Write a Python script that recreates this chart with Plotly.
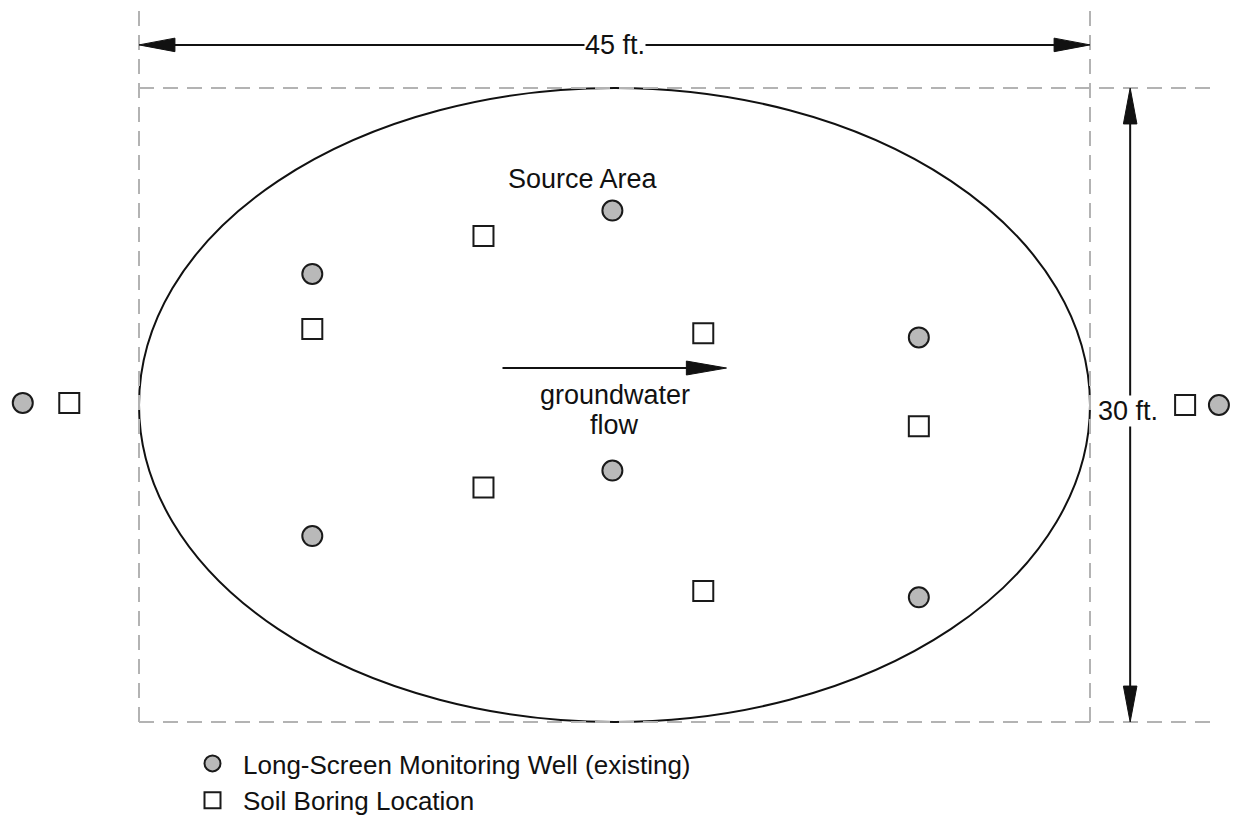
import plotly.graph_objects as go

# site dimensions (ft)
site_width = 45
site_height = 30

# existing long-screen monitoring wells (ft)
well_x = [22.4, 8.2, 36.9, -5.5, 51.1, 22.4, 8.2, 36.9]
well_y = [24.2, 21.2, 18.2, 15.1, 15.0, 11.9, 8.8, 5.9]

# soil boring locations (ft)
boring_x = [16.3, 8.2, 26.7, -3.3, 49.5, 36.9, 16.3, 26.7]
boring_y = [23.0, 18.6, 18.4, 15.1, 15.0, 14.0, 11.1, 6.2]

# groundwater flow arrow (ft)
flow_x = [17.2, 27.8]
flow_y = [16.75, 16.75]

FONT = "Liberation Sans, Arial, sans-serif"
BLACK = "#111111"
GREY_DASH = "#b3b3b3"

# the page keeps an 8px body margin, so the figure is a bit smaller than the window
W, H = 1231, 808


def arrow_head(tip_x, tip_y, dx, dy, length=1.7, half=0.32):
    '''Filled triangle path pointing along (dx, dy) with its tip at the given point'''
    bx = tip_x - dx * length
    by = tip_y - dy * length
    px, py = -dy * half, dx * half
    return dict(type="path", xref="x", yref="y",
                path=f"M {tip_x},{tip_y} L {bx + px},{by + py} L {bx - px},{by - py} Z",
                fillcolor=BLACK, line=dict(color=BLACK, width=1))


def dim_line(x0, y0, x1, y1):
    return dict(type="line", xref="x", yref="y", x0=x0, y0=y0, x1=x1, y1=y1,
                line=dict(color=BLACK, width=2))


def dashed(x0, y0, x1, y1):
    return dict(type="line", xref="x", yref="y", x0=x0, y0=y0, x1=x1, y1=y1,
                line=dict(color=GREY_DASH, width=2, dash="15px,9px"))


fig = go.Figure()

fig.add_trace(go.Scatter(
    x=well_x, y=well_y, mode="markers", name="Long-Screen Monitoring Well (existing)",
    marker=dict(symbol="circle", size=20, color="#b9b9b9", line=dict(color="#1a1a1a", width=2)),
))
fig.add_trace(go.Scatter(
    x=boring_x, y=boring_y, mode="markers", name="Soil Boring Location",
    marker=dict(symbol="square", size=20, color="white", line=dict(color="#1a1a1a", width=2)),
))

top_y = 32.04
right_x = 46.9
extent_x = 50.7
extent_top = 33.9

shapes = [
    # extent guides
    dashed(0, 0, 0, extent_top),
    dashed(site_width, 0, site_width, extent_top),
    dashed(0, site_height, extent_x, site_height),
    dashed(0, 0, extent_x, 0),
    # source area ellipse
    dict(type="circle", xref="x", yref="y", x0=0, y0=0, x1=site_width, y1=site_height,
         line=dict(color=BLACK, width=2), layer="below"),
    # 45 ft dimension
    dim_line(1.6, top_y, site_width - 1.6, top_y),
    arrow_head(0, top_y, -1, 0),
    arrow_head(site_width, top_y, 1, 0),
    # 30 ft dimension
    dim_line(right_x, 1.6, right_x, site_height - 1.6),
    arrow_head(right_x, site_height, 0, 1),
    arrow_head(right_x, 0, 0, -1),
    # groundwater flow
    dim_line(flow_x[0], flow_y[0], flow_x[1] - 1.8, flow_y[1]),
    arrow_head(flow_x[1], flow_y[1], 1, 0, length=1.9, half=0.33),
]
fig.update_layout(shapes=shapes)

text_font = dict(family=FONT, size=27, color=BLACK)
fig.add_annotation(x=site_width / 2, y=top_y, text="45 ft.", showarrow=False,
                   font=text_font, bgcolor="white", borderpad=0)
fig.add_annotation(x=right_x - 0.1, y=14.7, text="30 ft.", showarrow=False,
                   font=text_font, bgcolor="white", borderpad=0)
fig.add_annotation(x=21.0, y=25.7, text="Source Area", showarrow=False, font=text_font)
fig.add_annotation(x=22.5, y=15.47, text="groundwater", showarrow=False, font=text_font)
fig.add_annotation(x=22.5, y=14.05, text="flow", showarrow=False, font=text_font)

fig.update_layout(
    width=W, height=H,
    margin=dict(l=0, r=0, t=0, b=0, autoexpand=False),
    paper_bgcolor="white", plot_bgcolor="white",
    xaxis=dict(range=[-6.199, 52.05], visible=False, fixedrange=True),
    yaxis=dict(range=[-4.448, 33.786], visible=False, fixedrange=True),
    showlegend=True,
    legend=dict(x=174 / W, y=1 - 732 / H, xanchor="left", yanchor="top", itemwidth=51,
                font=dict(family=FONT, size=26, color=BLACK), bgcolor="rgba(0,0,0,0)"),
)

fig.write_html("out.html")
